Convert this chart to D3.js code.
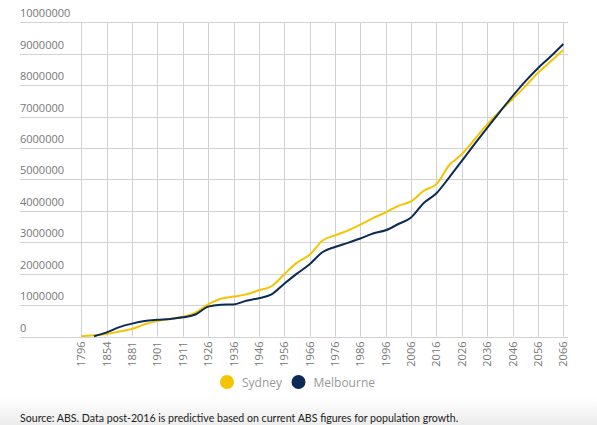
<!DOCTYPE html>
<html>
<head>
<meta charset="utf-8">
<script src="https://cdn.jsdelivr.net/npm/d3@7"></script>
<style>
  html, body { margin: 0; padding: 0; background: #fff; }
  svg { display: block; }
</style>
</head>
<body>
<svg id="chart" width="597" height="425"></svg>
<script>
// ---- DATA ----
const years = ["1796","1854","1881","1901","1911","1926","1936","1946","1956","1966",
               "1976","1986","1996","2006","2016","2026","2036","2046","2056","2066"];
const yTicks = [0,1000000,2000000,3000000,4000000,5000000,6000000,7000000,8000000,9000000,10000000];
// values read at every half category step (millions)
const sydney = [0.005,0.04,0.08,0.16,0.24,0.39,0.49,0.56,0.63,0.76,1.02,1.2,1.27,1.34,1.47,1.6,1.98,2.35,2.6,3.05,
                3.22,3.37,3.56,3.77,3.95,4.16,4.3,4.64,4.85,5.45,5.8,6.27,6.75,7.17,7.56,7.96,8.39,8.75,9.12];
const melbourne = [null,0.01,0.13,0.30,0.41,0.49,0.53,0.56,0.61,0.70,0.95,1.01,1.02,1.14,1.22,1.34,1.68,2.0,2.3,2.68,
                   2.85,2.98,3.12,3.28,3.38,3.58,3.79,4.25,4.56,5.06,5.59,6.12,6.64,7.15,7.65,8.12,8.54,8.91,9.31];
const seriesNames = ["Sydney","Melbourne"];
const seriesColors = ["#f5c400","#0b2a54"];
const sourceNote = "Source: ABS. Data post-2016 is predictive based on current ABS figures for population growth.";

// ---- CHART ----
const svg = d3.select("#chart");
const x = d3.scaleLinear().domain([0, years.length - 1]).range([81.3, 563.3]);
const y = d3.scaleLinear().domain([0, 10000000]).range([336.5, 22.3]);

// footer band
const defs = svg.append("defs");
const grad = defs.append("linearGradient").attr("id","foot").attr("x1",0).attr("y1",0).attr("x2",0).attr("y2",1);
grad.append("stop").attr("offset","0%").attr("stop-color","#ffffff");
grad.append("stop").attr("offset","100%").attr("stop-color","#ececec");
svg.append("rect").attr("x",0).attr("y",398).attr("width",597).attr("height",27).attr("fill","url(#foot)");

// horizontal grid + y labels
const yAxis = svg.append("g");
yAxis.selectAll("line").data(yTicks).join("line")
  .attr("x1", 20).attr("x2", 568)
  .attr("y1", d => Math.round(y(d)) + 0.5).attr("y2", d => Math.round(y(d)) + 0.5)
  .attr("stroke", "#d2d2d2").attr("stroke-width", 1);
yAxis.selectAll("text").data(yTicks).join("text")
  .attr("x", 20).attr("y", d => y(d) - 5)
  .attr("font-family", "'Open Sans', sans-serif").attr("font-size", 11)
  .attr("fill", "#777").text(d => d3.format("d")(d));

// vertical grid + x labels
const xAxis = svg.append("g");
xAxis.selectAll("line").data(years).join("line")
  .attr("x1", (d,i) => Math.round(x(i)) + 0.5).attr("x2", (d,i) => Math.round(x(i)) + 0.5)
  .attr("y1", y(10000000)).attr("y2", y(0))
  .attr("stroke", "#d2d2d2").attr("stroke-width", 1);
xAxis.selectAll("text").data(years).join("text")
  .attr("transform", (d,i) => `translate(${x(i) + 4},${y(0) + 5}) rotate(-90)`)
  .attr("text-anchor", "end")
  .attr("font-family", "'Open Sans', sans-serif").attr("font-size", 11)
  .attr("fill", "#777").text(d => d);

// lines
const seriesData = [sydney, melbourne];
const line = d3.line()
  .defined(d => d.v !== null)
  .x(d => x(d.i))
  .y(d => y(d.v * 1000000))
  .curve(d3.curveMonotoneX);
seriesData.forEach((arr, k) => {
  svg.append("path")
    .datum(arr.map((v, j) => ({ i: j / 2, v })))
    .attr("d", line)
    .attr("fill", "none")
    .attr("stroke", seriesColors[k])
    .attr("stroke-width", 2)
    .attr("stroke-linejoin", "round");
});

// legend
const legendX = [227, 298.5];
const legend = svg.append("g");
seriesNames.forEach((n, k) => {
  legend.append("circle").attr("cx", legendX[k]).attr("cy", 382).attr("r", 7).attr("fill", seriesColors[k]);
  legend.append("text").attr("x", legendX[k] + 15).attr("y", 386.5)
    .attr("font-family", "'Open Sans', sans-serif").attr("font-size", 12)
    .attr("fill", "#999").text(n);
});

// source
svg.append("text").attr("x", 20).attr("y", 422)
  .attr("font-family", "Lato, sans-serif").attr("font-size", 10.6)
  .attr("fill", "#222").text(sourceNote);
</script>
</body>
</html>
